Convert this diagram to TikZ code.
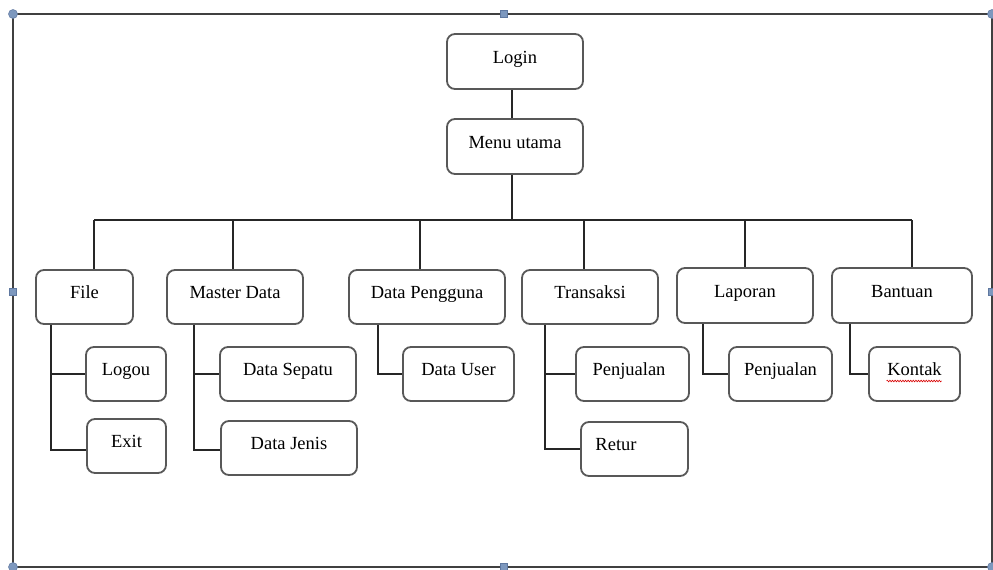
\documentclass[tikz,border=0pt]{standalone}
\usepackage{fontspec}
\setmainfont{Liberation Serif}
\usetikzlibrary{calc,decorations.pathmorphing}
\definecolor{boxline}{RGB}{88,88,88}
\definecolor{handle}{RGB}{125,152,190}
\definecolor{handleline}{RGB}{95,120,160}
\tikzset{
  box/.style={draw=boxline, line width=1.8pt, rounded corners=8pt, fill=white,
    font=\fontsize{18.5}{20}\selectfont, text height=14pt, text depth=11pt, inner sep=0pt},
  conn/.style={draw=black!85, line width=1.2pt},
  frameline/.style={draw=black!75, line width=1.3pt},
  hsq/.style={fill=handle, draw=handleline, line width=0.5pt, minimum size=7pt, inner sep=0pt},
  hci/.style={circle, fill=handle, draw=handleline, line width=0.5pt, minimum size=9pt, inner sep=0pt},
  wavy/.style={draw=red!85!black, line width=0.6pt, decorate,
    decoration={snake, amplitude=0.8pt, segment length=2.6pt}}
}
\begin{document}
\begin{tikzpicture}[x=1pt,y=-1pt]
\useasboundingbox (0,0) rectangle (993,570);
% outer frame with handles
\coordinate (ftl) at (13,14);
\coordinate (fbr) at (992,567);
\draw[frameline] (ftl) rectangle (fbr);
\node[hci] (h1) at (13,14) {};
\node[hci] (h2) at (992,14) {};
\node[hci] (h3) at (13,567) {};
\node[hci] (h4) at (992,567) {};
\node[hsq] (h5) at (504,14) {};
\node[hsq] (h6) at (504,567) {};
\node[hsq] (h7) at (13,292) {};
\node[hsq] (h8) at (992,292) {};
% top
\node[box, minimum width=136pt, minimum height=55pt] (login) at (515,61.5) {Login};
\node[box, minimum width=136pt, minimum height=55pt] (menu) at (515,146.5) {Menu utama};
% first level
\node[box, minimum width=97pt, minimum height=54pt] (file) at (84.5,297) {File};
\node[box, minimum width=136pt, minimum height=54pt] (master) at (235,297) {Master Data};
\node[box, minimum width=156pt, minimum height=54pt] (pengguna) at (427,297) {Data Pengguna};
\node[box, minimum width=136pt, minimum height=54pt] (transaksi) at (590,297) {Transaksi};
\node[box, minimum width=136pt, minimum height=55pt] (laporan) at (745,295.5) {Laporan};
\node[box, minimum width=140pt, minimum height=55pt] (bantuan) at (902,295.5) {Bantuan};
% second level
\node[box, minimum width=80pt, minimum height=54pt] (logou) at (126,374) {Logou};
\node[box, minimum width=79pt, minimum height=54pt] (exit) at (126.5,446) {Exit};
\node[box, minimum width=136pt, minimum height=54pt] (sepatu) at (288,374) {Data Sepatu};
\node[box, minimum width=136pt, minimum height=54pt] (jenis) at (289,448) {Data Jenis};
\node[box, minimum width=111pt, minimum height=54pt] (user) at (458.5,374) {Data User};
\node[box, minimum width=113pt, minimum height=54pt] (penj1) at (632.5,374) {Penjualan\hspace*{7pt}};
\node[box, minimum width=107pt, minimum height=54pt] (retur) at (634.5,449) {Retur\hspace*{37pt}};
\node[box, minimum width=103pt, minimum height=54pt] (penj2) at (780.5,374) {Penjualan};
\node[box, minimum width=91pt, minimum height=54pt] (kontak) at (914.5,374) {Kontak};
\draw[wavy] ($(kontak.center)+(-28,7)$) -- ($(kontak.center)+(27,7)$);
% connectors top
\draw[conn] ([xshift=-3pt]login.south) -- ([xshift=-3pt]menu.north);
\coordinate (bus) at (512,220);
\draw[conn] ([xshift=-3pt]menu.south) -- (bus);
\coordinate (d1) at (94,220);
\coordinate (d2) at (233,220);
\coordinate (d3) at (420,220);
\coordinate (d4) at (584,220);
\coordinate (d5) at (745,220);
\coordinate (d6) at (912,220);
\draw[conn] (d1) -- (d6);
\draw[conn] (d1) -- (d1 |- file.north);
\draw[conn] (d2) -- (d2 |- master.north);
\draw[conn] (d3) -- (d3 |- pengguna.north);
\draw[conn] (d4) -- (d4 |- transaksi.north);
\draw[conn] (d5) -- (d5 |- laporan.north);
\draw[conn] (d6) -- (d6 |- bantuan.north);
% spines
\coordinate (s1) at (51,0);
\coordinate (s2) at (194,0);
\coordinate (s3) at (378,0);
\coordinate (s4) at (545,0);
\coordinate (s5) at (703,0);
\coordinate (s6) at (850,0);
\draw[conn] (s1 |- file.south) |- ([yshift=-4pt]exit.west);
\draw[conn] (s1 |- logou.west) -- (logou.west);
\draw[conn] (s2 |- master.south) |- ([yshift=-2pt]jenis.west);
\draw[conn] (s2 |- sepatu.west) -- (sepatu.west);
\draw[conn] (s3 |- pengguna.south) |- (user.west);
\draw[conn] (s4 |- transaksi.south) |- (retur.west);
\draw[conn] (s4 |- penj1.west) -- (penj1.west);
\draw[conn] (s5 |- laporan.south) |- (penj2.west);
\draw[conn] (s6 |- bantuan.south) |- (kontak.west);
\end{tikzpicture}
\end{document}
